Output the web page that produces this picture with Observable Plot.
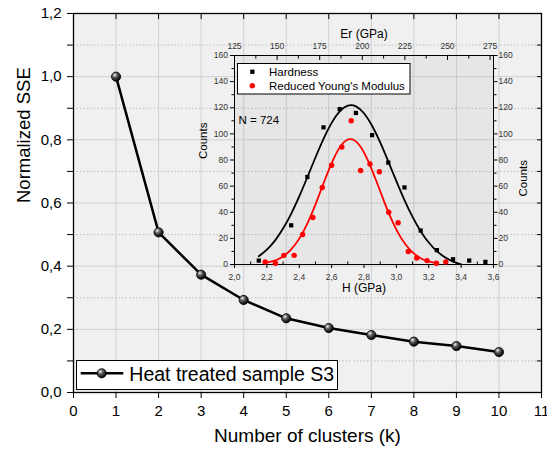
<!DOCTYPE html>
<html>
<head>
<meta charset="utf-8">
<script src="https://cdn.jsdelivr.net/npm/d3@7"></script>
<script src="https://cdn.jsdelivr.net/npm/@observablehq/plot@0.6"></script>
<style>
  body { margin: 0; background: #fff; }
  #wrap { position: relative; width: 547px; height: 454px; overflow: hidden; font-family: "Liberation Sans", Arial, sans-serif; }
  #wrap > * { position: absolute; }
</style>
</head>
<body>
<div id="wrap"></div>
<script>
// ---- Main chart data ----
const clusters = [1, 2, 3, 4, 5, 6, 7, 8, 9, 10];
const sse = [1.0, 0.507, 0.373, 0.293, 0.235, 0.204, 0.182, 0.161, 0.147, 0.128];
const seriesName = "Heat treated sample S3";
const xTicks = [0, 1, 2, 3, 4, 5, 6, 7, 8, 9, 10, 11];
const yTicks = [0, 0.2, 0.4, 0.6, 0.8, 1.0, 1.2];
const yMinor = [0.1, 0.3, 0.5, 0.7, 0.9, 1.1];

// ---- Inset data ----
const hBins = [2.15, 2.35, 2.45, 2.55, 2.65, 2.75, 2.85, 2.95, 3.05, 3.15, 3.25, 3.35, 3.45, 3.55];
const hCounts = [3, 30, 67, 105, 119, 116, 99, 78, 59, 26, 11, 4, 3, 2];
const erBins = [143, 149, 154, 160, 165, 171, 176.5, 182, 188, 193.5, 199, 204.5, 210, 215.5, 221, 227, 232, 238, 243.5, 249];
const erCounts = [2, 1, 7, 7, 23, 36, 59, 76, 90, 110, 72, 77, 71, 40, 32, 10, 5, 3, 1, 2];
const hFitX = [2.15, 2.20, 2.25, 2.30, 2.35, 2.40, 2.45, 2.50, 2.55, 2.60, 2.65, 2.70, 2.75, 2.80, 2.85, 2.90, 2.95, 3.00, 3.05, 3.10, 3.15, 3.20, 3.25, 3.30, 3.35, 3.40];
const hFitY = [6.3, 11.4, 18.3, 27.5, 38.8, 52.1, 66.8, 81.9, 96.2, 108.4, 117.2, 121.6, 121.1, 115.8, 106.2, 93.5, 78.9, 63.8, 49.3, 36.4, 25.5, 16.8, 10.2, 5.5, 2.2, 0.1];
const erFitX = [143, 148, 153, 158, 163, 168, 173, 178, 183, 188, 193, 198, 203, 208, 213, 218, 223, 228, 233, 238, 243];
const erFitY = [1.2, 2.7, 5.8, 11.2, 19.8, 32.1, 47.6, 64.7, 80.5, 91.9, 96, 91.9, 80.5, 64.7, 47.6, 32.1, 19.8, 11.2, 5.8, 2.7, 1.2];
const countTicks = [0, 20, 40, 60, 80, 100, 120, 140, 160];
const countMinor = [10, 30, 50, 70, 90, 110, 130, 150];
const hTicks = [2.0, 2.2, 2.4, 2.6, 2.8, 3.0, 3.2, 3.4, 3.6];
const hMinor = [2.1, 2.3, 2.5, 2.7, 2.9, 3.1, 3.3, 3.5];
const erTicks = [125, 150, 175, 200, 225, 250, 275];
const erMinor = [137.5, 162.5, 187.5, 212.5, 237.5, 262.5];
const sampleN = "N = 724";
const legendLabels = ["Hardness", "Reduced Young's Modulus"];

const FONT = "Liberation Sans, Arial, sans-serif";
const comma1 = d => d3.format(".1f")(d).replace(".", ",");

const mainData = clusters.map((k, i) => ({k, v: sse[i]}));
const hData = hBins.map((x, i) => ({x, y: hCounts[i]}));
const erData = erBins.map((x, i) => ({x, y: erCounts[i]}));
const hFit = hFitX.map((x, i) => ({x, y: hFitY[i]}));
const erFit = erFitX.map((x, i) => ({x, y: erFitY[i]}));

const wrap = document.getElementById("wrap");

// ---- Main plot ----
const main = Plot.plot({
  width: 547, height: 454,
  marginLeft: 73, marginRight: 6, marginTop: 13, marginBottom: 62,
  style: {fontFamily: FONT, background: "transparent", overflow: "visible", color: "#000"},
  x: {domain: [0, 11], label: null},
  y: {domain: [0, 1.2], label: null},
  marks: [
    Plot.frame({fill: "#f0f0f0"}),
    Plot.ruleY(yMinor, {stroke: "#bcbcbc", strokeDasharray: "1.5,2"}),
    Plot.ruleY(yTicks.slice(1, -1), {stroke: "#d0d0d0"}),
    Plot.ruleX(xTicks.slice(1, -1), {stroke: "#d0d0d0"}),
    Plot.axisY({anchor: "left", ticks: yTicks, tickSize: 6, tickPadding: 6, fontSize: 15, tickFormat: comma1, label: null}),
    Plot.axisY({anchor: "left", ticks: yMinor, tickSize: 6, tickFormat: () => "", label: null}),
    Plot.axisY({anchor: "right", ticks: yTicks.concat(yMinor), tickSize: -5, tickFormat: () => "", label: null}),
    Plot.axisX({anchor: "bottom", ticks: xTicks, tickSize: 6, tickPadding: 7, fontSize: 15, tickFormat: d => String(d), label: null}),
    Plot.axisX({anchor: "top", ticks: xTicks, tickSize: -5, tickFormat: () => "", label: null}),
    Plot.frame({stroke: "#000", strokeWidth: 1.3}),
    Plot.line(mainData, {x: "k", y: "v", stroke: "#000", strokeWidth: 2.5}),
    Plot.dot(mainData, {x: "k", y: "v", r: 4.6, fill: "url(#ball)", stroke: "#000", strokeWidth: 0.8}),
    Plot.text(["Normalized SSE"], {text: d => d, frameAnchor: "left", dx: -49, rotate: -90, fontSize: 18.5}),
    Plot.text(["Number of clusters (k)"], {text: d => d, frameAnchor: "bottom", dy: 49, fontSize: 19})
  ]
});
main.insertAdjacentHTML("afterbegin",
  '<defs><radialGradient id="ball" cx="0.36" cy="0.32" r="0.68">' +
  '<stop offset="0" stop-color="#f2f2f2"/><stop offset="0.4" stop-color="#5a5a5a"/><stop offset="1" stop-color="#000"/>' +
  '</radialGradient></defs>');
main.style.left = "0px"; main.style.top = "0px";
wrap.appendChild(main);

// ---- Inset: hardness (H axis) ----
const insetOpts = {
  width: 367, height: 290,
  marginLeft: 54, marginRight: 54, marginTop: 35, marginBottom: 46,
  style: {fontFamily: FONT, background: "transparent", overflow: "visible", color: "#000"}
};
const insetH = Plot.plot({
  ...insetOpts,
  x: {domain: [2.0, 3.6], label: null},
  y: {domain: [0, 160], label: null},
  marks: [
    Plot.frame({fill: "#707070", fillOpacity: 0.08}),
    Plot.axisY({anchor: "left", ticks: countTicks, tickSize: 4, tickPadding: 2.5, fontSize: 8.5, tickFormat: d => String(d), label: null, fill: "#333"}),
    Plot.axisY({anchor: "left", ticks: countMinor, tickSize: 2.5, tickFormat: () => "", label: null}),
    Plot.axisY({anchor: "right", ticks: countTicks, tickSize: 3.5, tickPadding: 1.5, fontSize: 8.5, tickFormat: d => String(d), label: null, fill: "#333"}),
    Plot.axisY({anchor: "right", ticks: countMinor, tickSize: 2.5, tickFormat: () => "", label: null}),
    Plot.axisX({anchor: "bottom", ticks: hTicks, tickSize: 4, tickPadding: 5, fontSize: 8.5, tickFormat: comma1, label: null, fill: "#333"}),
    Plot.axisX({anchor: "bottom", ticks: hMinor, tickSize: -2.5, tickFormat: () => "", label: null}),
    Plot.line(hFit, {x: "x", y: "y", stroke: "#000", strokeWidth: 1.8, curve: "natural"}),
    Plot.dot(hData, {x: "x", y: "y", symbol: "square", r: 2.4, fill: "#000"}),
    Plot.frame({stroke: "#000", strokeWidth: 1}),
    Plot.text(["H (GPa)"], {text: d => d, frameAnchor: "bottom", dy: 27.5, fontSize: 12}),
    Plot.text(["Counts"], {text: d => d, frameAnchor: "left", dx: -31, dy: -1, rotate: -90, fontSize: 11.5}),
    Plot.text(["Counts"], {text: d => d, frameAnchor: "right", dx: 30, rotate: -90, fontSize: 11.5}),
    Plot.text([sampleN], {text: d => d, frameAnchor: "top-left", dx: 4, dy: 60, textAnchor: "start", fontSize: 11.5})
  ]
});
insetH.style.left = "180px"; insetH.style.top = "20px";
wrap.appendChild(insetH);

// ---- Inset: reduced modulus (Er axis) ----
const insetE = Plot.plot({
  ...insetOpts,
  x: {domain: [125, 277], label: null},
  y: {domain: [0, 160], label: null, axis: null},
  marks: [
    Plot.axisX({anchor: "top", ticks: erTicks, tickSize: 0, tickPadding: 7, fontSize: 8.5, tickFormat: d => String(d), label: null, fill: "#333"}),
    Plot.axisX({anchor: "top", ticks: erTicks, tickSize: -4, tickFormat: () => "", label: null}),
    Plot.axisX({anchor: "top", ticks: erMinor, tickSize: -2.5, tickFormat: () => "", label: null}),
    Plot.line(erFit, {x: "x", y: "y", stroke: "#ff0000", strokeWidth: 1.8, curve: "natural"}),
    Plot.dot(erData, {x: "x", y: "y", r: 2.7, fill: "#ff0000"}),
    Plot.text(["Er (GPa)"], {text: d => d, frameAnchor: "top", dy: -26, fontSize: 12})
  ]
});
insetE.style.left = "180px"; insetE.style.top = "20px";
wrap.appendChild(insetE);

// ---- Inset legend ----
const ns = "http://www.w3.org/2000/svg";
const leg2 = document.createElementNS(ns, "svg");
leg2.setAttribute("width", "175"); leg2.setAttribute("height", "33");
leg2.style.left = "237px"; leg2.style.top = "63px";
leg2.innerHTML =
  '<rect x="0.5" y="0.5" width="172.5" height="30.5" fill="#fff" stroke="#000" stroke-width="1"/>' +
  '<rect x="13.2" y="6.6" width="4.3" height="4.3" fill="#000"/>' +
  '<circle cx="15.3" cy="22.7" r="2.7" fill="#ff0000"/>' +
  `<text x="32" y="13" font-size="11.5" font-family="${FONT}">${legendLabels[0]}</text>` +
  `<text x="32" y="27" font-size="11.5" font-family="${FONT}">${legendLabels[1]}</text>`;
wrap.appendChild(leg2);

// ---- Main legend ----
const leg1 = document.createElementNS(ns, "svg");
leg1.setAttribute("width", "263"); leg1.setAttribute("height", "31");
leg1.style.left = "76px"; leg1.style.top = "360px";
leg1.innerHTML =
  '<rect x="0.5" y="0.5" width="261" height="29" fill="#fff" stroke="#000" stroke-width="1"/>' +
  '<line x1="4.7" y1="13.3" x2="47.3" y2="13.3" stroke="#000" stroke-width="2.5"/>' +
  '<circle cx="25.7" cy="13.3" r="4.6" fill="url(#ball)" stroke="#000" stroke-width="0.8"/>' +
  `<text x="53.3" y="20.7" font-size="19.5" font-family="${FONT}">${seriesName}</text>`;
wrap.appendChild(leg1);
</script>
</body>
</html>
